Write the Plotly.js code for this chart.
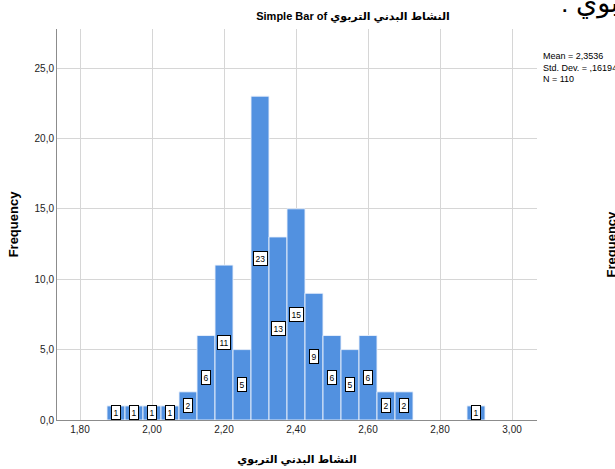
<!DOCTYPE html>
<html>
<head>
<meta charset="utf-8">
<script src="https://cdn.plot.ly/plotly-3.0.1.min.js"></script>
<style>html,body{margin:0;padding:0;background:#fff;}#chart{width:615px;height:469px;}</style>
</head>
<body>
<div id="chart"></div>
<script>
var binCenters = [1.90, 1.95, 2.00, 2.05, 2.10, 2.15, 2.20, 2.25, 2.30, 2.35, 2.40, 2.45, 2.50, 2.55, 2.60, 2.65, 2.70, 2.90];
var counts     = [1, 1, 1, 1, 2, 6, 11, 5, 23, 13, 15, 9, 6, 5, 6, 2, 2, 1];
var xTicks = [1.8, 2.0, 2.2, 2.4, 2.6, 2.8, 3.0];
var yTicks = [0, 5, 10, 15, 20, 25];
var varName = "النشاط البدني التربوي";
var statsLines = ["Mean = 2,3536", "Std. Dev. = ,16194", "N = 110"];

var FONT = "Liberation Sans, Arial, DejaVu Sans, sans-serif";

var trace = {
  type: "bar",
  x: binCenters,
  y: counts,
  width: 0.05,
  marker: {color: "#5291e0", line: {color: "rgba(235,242,252,0.9)", width: 1}},
  hoverinfo: "x+y"
};

var annotations = binCenters.map(function (xv, i) {
  return {
    x: xv, y: counts[i] / 2, xref: "x", yref: "y",
    text: String(counts[i]), showarrow: false,
    font: {family: FONT, size: 8.5, color: "#000"},
    bgcolor: "#fff", bordercolor: "#000", borderwidth: 1, borderpad: 1.5
  };
});

annotations.push({
  xref: "paper", yref: "paper", x: 1.0083, y: 0.949, xanchor: "left", yanchor: "top",
  text: statsLines.join("<br>"), align: "left", showarrow: false,
  font: {family: FONT, size: 9, color: "#000"}
});
annotations.push({
  xref: "paper", yref: "paper", x: 1.045, y: 1.066, xanchor: "left", yanchor: "middle",
  text: ": " + "التربوي", align: "left", showarrow: false,
  font: {family: FONT, size: 27, color: "#000"}
});
annotations.push({
  xref: "paper", yref: "paper", x: 1.155, y: 0.45, xanchor: "center", yanchor: "middle",
  text: "<b>Frequency</b>", textangle: -90, showarrow: false,
  font: {family: FONT, size: 13, color: "#000"}
});

var layout = {
  width: 615, height: 469,
  margin: {l: 57, r: 78, t: 29, b: 49},
  paper_bgcolor: "#fff", plot_bgcolor: "#fff",
  separators: ", ",
  showlegend: false,
  bargap: 0,
  title: {
    text: "<b>Simple Bar of " + varName + "</b>",
    font: {family: FONT, size: 11, color: "#000"},
    xref: "container", yref: "container", x: 0.574, y: 1 - 16 / 469,
    xanchor: "center", yanchor: "middle"
  },
  xaxis: {
    range: [1.7361, 3.0694],
    tickvals: xTicks, tickformat: ".2f",
    tickfont: {family: FONT, size: 10, color: "#222"},
    showgrid: true, gridcolor: "#d6d6d6", gridwidth: 1,
    zeroline: false, showline: true, linecolor: "#8c8c8c", linewidth: 1,
    ticks: "", ticklen: 0,
    title: {text: "<b>" + varName + "</b>", font: {family: FONT, size: 11, color: "#000"}, standoff: 21}
  },
  yaxis: {
    range: [0, 27.77],
    tickvals: yTicks, tickformat: ".1f",
    tickfont: {family: FONT, size: 10, color: "#222"},
    showgrid: true, gridcolor: "#d6d6d6", gridwidth: 1,
    zeroline: false, showline: true, linecolor: "#8c8c8c", linewidth: 1,
    ticks: "", ticklen: 0,
    title: {text: "<b>Frequency</b>", font: {family: FONT, size: 13, color: "#000"}, standoff: 12}
  },
  annotations: annotations
};

Plotly.newPlot("chart", [trace], layout, {displayModeBar: false, staticPlot: true});
</script>
</body>
</html>
